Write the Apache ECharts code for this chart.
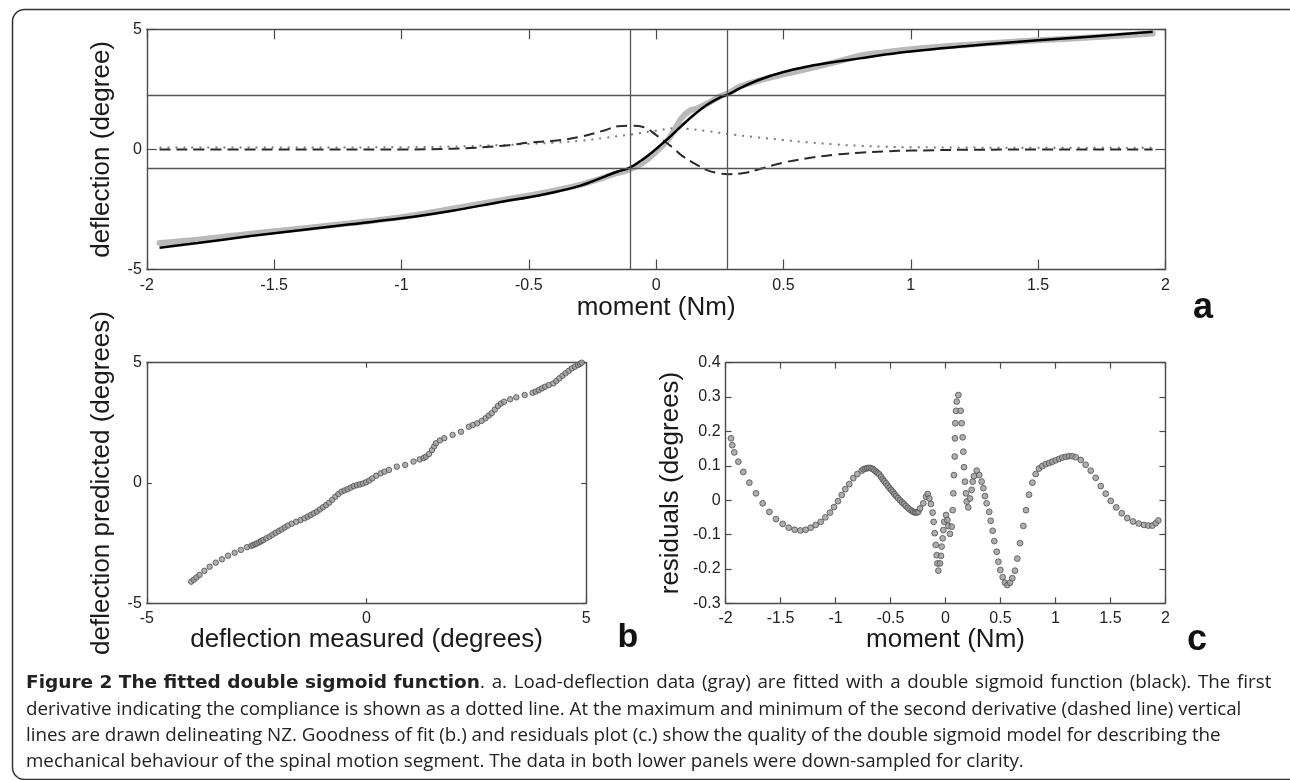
<!DOCTYPE html>
<html>
<head>
<meta charset="utf-8">
<script src="https://cdn.jsdelivr.net/npm/echarts@6/dist/echarts.min.js"></script>
<style>
html,body{margin:0;padding:0;background:#fff;}
#c{width:1290px;height:780px;}
</style>
</head>
<body>
<div id="c"></div>
<script>
// ---------- Panel a: load-deflection ----------
const fitMoment = [-1.95,-1.8,-1.6,-1.4,-1.2,-1.0,-0.8,-0.6,-0.5,-0.4,-0.3,-0.25,-0.2,-0.15,-0.105,-0.05,0,0.05,0.1,0.15,0.2,0.25,0.285,0.33,0.4,0.5,0.6,0.7,0.8,0.9,1.0,1.2,1.4,1.6,1.8,1.95];
const fitDeflection = [-4.09,-3.90,-3.62,-3.37,-3.12,-2.87,-2.55,-2.17,-1.99,-1.78,-1.52,-1.33,-1.12,-0.92,-0.77,-0.40,0.02,0.48,0.98,1.45,1.86,2.16,2.30,2.55,2.88,3.22,3.46,3.64,3.79,3.95,4.08,4.28,4.46,4.62,4.77,4.90];

const dataMoment = [-1.95,-1.8,-1.6,-1.4,-1.2,-1.0,-0.8,-0.6,-0.5,-0.4,-0.3,-0.25,-0.2,-0.15,-0.105,-0.05,0,0.05,0.08,0.1,0.13,0.16,0.2,0.25,0.285,0.33,0.4,0.5,0.6,0.7,0.8,0.9,1.0,1.2,1.4,1.6,1.8,1.95];
const dataDeflection = [-3.90,-3.76,-3.52,-3.30,-3.07,-2.82,-2.47,-2.10,-1.92,-1.72,-1.48,-1.32,-1.15,-0.98,-0.85,-0.55,-0.10,0.45,0.95,1.30,1.60,1.70,1.90,2.20,2.35,2.62,2.85,3.12,3.36,3.62,3.90,4.05,4.17,4.34,4.48,4.60,4.72,4.82];

const derivMoment = [-1.95,-1.5,-1.0,-0.8,-0.6,-0.5,-0.4,-0.3,-0.2,-0.1,0,0.07,0.12,0.2,0.3,0.4,0.5,0.6,0.7,0.8,0.9,1.0,1.5,1.95];
const firstDerivative = [0.08,0.08,0.09,0.12,0.18,0.23,0.28,0.36,0.48,0.62,0.78,0.88,0.86,0.76,0.62,0.50,0.39,0.29,0.21,0.15,0.11,0.09,0.07,0.07];

const secondMoment = [-1.95,-1.5,-1.0,-0.8,-0.6,-0.5,-0.4,-0.3,-0.2,-0.15,-0.1,-0.05,0,0.068,0.1,0.15,0.2,0.25,0.29,0.35,0.4,0.5,0.6,0.7,0.8,0.9,1.0,1.3,1.95];
const secondDerivative = [0.0,0.0,0.0,0.03,0.15,0.28,0.36,0.52,0.80,0.96,0.98,0.93,0.60,0.05,-0.25,-0.58,-0.86,-1.00,-1.03,-0.97,-0.84,-0.55,-0.36,-0.22,-0.14,-0.08,-0.05,-0.01,0.0];

const nzMoments = [-0.105, 0.285];
const nzDeflections = [-0.78, 2.27];

// ---------- Panel b: goodness of fit ----------
const measured = [-3.99,-3.93,-3.87,-3.80,-3.69,-3.57,-3.43,-3.29,-3.15,-3.00,-2.86,-2.72,-2.62,-2.58,-2.53,-2.49,-2.44,-2.40,-2.35,-2.28,-2.21,-2.14,-2.07,-2.00,-1.93,-1.86,-1.79,-1.70,-1.60,-1.50,-1.41,-1.34,-1.27,-1.20,-1.13,-1.06,-0.99,-0.92,-0.85,-0.78,-0.71,-0.64,-0.57,-0.50,-0.43,-0.36,-0.29,-0.22,-0.15,-0.08,-0.01,0.06,0.13,0.22,0.32,0.41,0.51,0.69,0.88,1.07,1.21,1.30,1.35,1.42,1.49,1.54,1.58,1.67,1.77,1.96,2.15,2.33,2.42,2.52,2.62,2.71,2.78,2.85,2.92,2.99,3.06,3.13,3.27,3.41,3.60,3.78,3.85,3.92,3.99,4.06,4.15,4.25,4.32,4.39,4.46,4.53,4.60,4.67,4.74,4.81,4.86,4.90];
const predicted = [-4.10,-4.02,-3.93,-3.82,-3.65,-3.48,-3.31,-3.17,-3.02,-2.90,-2.78,-2.67,-2.61,-2.58,-2.54,-2.51,-2.46,-2.42,-2.37,-2.30,-2.23,-2.15,-2.07,-2.00,-1.93,-1.85,-1.77,-1.69,-1.61,-1.54,-1.47,-1.40,-1.33,-1.26,-1.19,-1.10,-1.01,-0.92,-0.82,-0.70,-0.57,-0.46,-0.36,-0.31,-0.26,-0.19,-0.13,-0.09,-0.06,-0.02,0.03,0.10,0.19,0.30,0.40,0.47,0.54,0.68,0.75,0.89,0.98,1.04,1.09,1.20,1.37,1.52,1.65,1.77,1.86,2.00,2.13,2.34,2.41,2.48,2.58,2.69,2.80,2.90,3.05,3.20,3.30,3.38,3.48,3.56,3.66,3.75,3.80,3.86,3.93,4.00,4.07,4.14,4.24,4.35,4.46,4.56,4.66,4.76,4.83,4.90,4.95,5.00];

// ---------- Panel c: residuals ----------
const residMoment = [-1.951,-1.939,-1.921,-1.884,-1.839,-1.784,-1.724,-1.663,-1.602,-1.542,-1.481,-1.426,-1.372,-1.320,-1.272,-1.226,-1.181,-1.135,-1.093,-1.050,-1.014,-0.978,-0.944,-0.911,-0.875,-0.839,-0.802,-0.762,-0.745,-0.726,-0.711,-0.696,-0.679,-0.662,-0.647,-0.632,-0.617,-0.602,-0.586,-0.571,-0.556,-0.541,-0.526,-0.511,-0.495,-0.480,-0.465,-0.450,-0.432,-0.414,-0.396,-0.378,-0.361,-0.344,-0.326,-0.308,-0.292,-0.277,-0.262,-0.247,-0.232,-0.202,-0.177,-0.162,-0.147,-0.132,-0.117,-0.108,-0.098,-0.089,-0.080,-0.074,-0.065,-0.050,-0.041,-0.035,-0.026,-0.020,-0.011,0.005,0.017,0.026,0.041,0.056,0.065,0.071,0.077,0.084,0.086,0.089,0.096,0.102,0.117,0.138,0.147,0.156,0.162,0.168,0.177,0.186,0.193,0.207,0.223,0.238,0.247,0.259,0.284,0.307,0.329,0.344,0.359,0.374,0.398,0.411,0.429,0.444,0.466,0.481,0.499,0.520,0.541,0.562,0.587,0.608,0.632,0.653,0.678,0.708,0.732,0.760,0.790,0.820,0.850,0.880,0.911,0.941,0.971,1.002,1.032,1.062,1.093,1.123,1.153,1.184,1.230,1.275,1.321,1.366,1.412,1.457,1.503,1.553,1.603,1.653,1.706,1.757,1.805,1.845,1.881,1.912,1.936];
const residual = [0.180,0.160,0.139,0.112,0.082,0.051,0.020,-0.009,-0.034,-0.055,-0.069,-0.080,-0.086,-0.088,-0.086,-0.080,-0.072,-0.063,-0.050,-0.036,-0.020,-0.003,0.015,0.032,0.047,0.064,0.076,0.086,0.090,0.092,0.093,0.094,0.093,0.091,0.087,0.083,0.079,0.075,0.068,0.061,0.055,0.049,0.042,0.036,0.030,0.025,0.018,0.012,0.006,0.000,-0.006,-0.011,-0.017,-0.022,-0.027,-0.031,-0.034,-0.036,-0.036,-0.034,-0.024,-0.009,0.010,0.018,0.005,-0.011,-0.036,-0.063,-0.096,-0.130,-0.160,-0.184,-0.205,-0.184,-0.162,-0.135,-0.111,-0.087,-0.063,-0.043,-0.058,-0.075,-0.098,-0.077,-0.029,0.020,0.073,0.127,0.180,0.224,0.260,0.287,0.306,0.260,0.224,0.183,0.141,0.096,0.054,0.020,-0.004,-0.021,0.005,0.030,0.054,0.070,0.086,0.073,0.054,0.035,0.012,-0.009,-0.034,-0.060,-0.089,-0.119,-0.150,-0.179,-0.203,-0.224,-0.240,-0.247,-0.240,-0.227,-0.205,-0.170,-0.125,-0.075,-0.029,0.016,0.051,0.076,0.092,0.099,0.105,0.108,0.112,0.116,0.120,0.124,0.126,0.128,0.128,0.125,0.117,0.103,0.086,0.065,0.041,0.019,-0.002,-0.021,-0.038,-0.052,-0.062,-0.068,-0.072,-0.074,-0.074,-0.067,-0.059];

// ---------- Text ----------
const captionBold = 'Figure 2 The fitted double sigmoid function';
const captionLines = [
  '. a. Load-deflection data (gray) are fitted with a double sigmoid function (black). The first',
  'derivative indicating the compliance is shown as a dotted line. At the maximum and minimum of the second derivative (dashed line) vertical',
  'lines are drawn delineating NZ. Goodness of fit (b.) and residuals plot (c.) show the quality of the double sigmoid model for describing the',
  'mechanical behaviour of the spinal motion segment. The data in both lower panels were down-sampled for clarity.'
];

const zip = (xs, ys) => xs.map((x, i) => [x, ys[i]]);

const FRAME = '#4a4a4a';
const SANS = '"Liberation Sans", Arial, Helvetica, sans-serif';
const CAP_FONT = '18.75px "Open Sans", "Noto Sans", sans-serif';
const CAP_SPACE = '26px "Open Sans", "Noto Sans", sans-serif';
const CAP_BOLD = 'bold 18.5px "DejaVu Sans", "Open Sans", sans-serif';
const LABEL = {color: '#222', fontSize: 16, fontFamily: SANS};
const NAME = {color: '#1a1a1a', fontSize: 26, fontFamily: SANS};

function axisPair(kind, gi, min, max, interval, tickLen, name, nameGap, labelMargin) {
  const pos = kind === 'x' ? ['bottom', 'top'] : ['left', 'right'];
  const common = {
    type: 'value', gridIndex: gi, min: min, max: max, interval: interval,
    axisLine: {show: true, onZero: false, lineStyle: {color: FRAME, width: 1.4}},
    axisTick: {show: true, inside: true, length: tickLen, lineStyle: {color: FRAME, width: 1.2}},
    splitLine: {show: false}
  };
  return [
    Object.assign({}, common, {
      position: pos[0],
      axisLabel: Object.assign({show: true, margin: labelMargin}, LABEL),
      name: name, nameLocation: 'middle', nameGap: nameGap, nameTextStyle: NAME
    }),
    Object.assign({}, common, {position: pos[1], axisLabel: {show: false}})
  ];
}

const xAxes = [].concat(
  axisPair('x', 0, -2, 2, 0.5, 10, 'moment (Nm)', 25, 8),
  axisPair('x', 1, -5, 5, 5, 5, 'deflection measured (degrees)', 23, 7),
  axisPair('x', 2, -2, 2, 0.5, 6, 'moment (Nm)', 23, 7)
);
const yAxes = [].concat(
  axisPair('y', 0, -5, 5, 5, 10, 'deflection (degree)', 32, 5),
  axisPair('y', 1, -5, 5, 5, 5, 'deflection predicted (degrees)', 32, 5),
  axisPair('y', 2, -0.3, 0.4, 0.1, 6, 'residuals (degrees)', 42, 5)
);

const dotStyle = {color: '#9a9a9a', borderColor: '#505050', borderWidth: 1};

// first caption line is justified in the reference: widen its word spaces
const firstLineRich = '{b|' + captionBold + '}' +
  captionLines[0].split(' ').map(w => '{n|' + w + '}').join('{s| }');

const option = {
  animation: false,
  backgroundColor: '#fff',
  grid: [
    {left: 146.8, top: 29.3, width: 1018.6, height: 240.2, outerBoundsMode: 'none'},
    {left: 146.8, top: 362.7, width: 439.4, height: 240.6, outerBoundsMode: 'none'},
    {left: 725.6, top: 362.7, width: 439.8, height: 240.6, outerBoundsMode: 'none'}
  ],
  xAxis: xAxes,
  yAxis: yAxes,
  series: [
    {
      name: 'data', type: 'line', xAxisIndex: 0, yAxisIndex: 0,
      data: zip(dataMoment, dataDeflection), showSymbol: false, symbol: 'none',
      smooth: 0.4,
      lineStyle: {color: '#b9b9b9', width: 6, cap: 'round', join: 'round'},
      markLine: {
        silent: true, symbol: ['none', 'none'], label: {show: false},
        lineStyle: {color: '#555', width: 1.3, type: 'solid'},
        emphasis: {disabled: true},
        data: nzMoments.map(v => ({xAxis: v})).concat(nzDeflections.map(v => ({yAxis: v})))
      },
      z: 1
    },
    {
      name: 'first derivative', type: 'line', xAxisIndex: 0, yAxisIndex: 0,
      data: zip(derivMoment, firstDerivative), symbol: 'none', smooth: 0.4,
      lineStyle: {color: '#7a7a7a', width: 2, type: [2, 6]}, z: 2
    },
    {
      name: 'second derivative', type: 'line', xAxisIndex: 0, yAxisIndex: 0,
      data: zip(secondMoment, secondDerivative), symbol: 'none', smooth: 0.4,
      lineStyle: {color: '#2a2a2a', width: 2, type: [11, 6]}, z: 3
    },
    {
      name: 'fit', type: 'line', xAxisIndex: 0, yAxisIndex: 0,
      data: zip(fitMoment, fitDeflection), symbol: 'none', smooth: 0.4,
      lineStyle: {color: '#000', width: 2.5}, z: 4
    },
    {
      name: 'goodness of fit', type: 'scatter', xAxisIndex: 2, yAxisIndex: 2,
      data: zip(measured, predicted), symbol: 'circle', symbolSize: 5.5,
      itemStyle: dotStyle
    },
    {
      name: 'residuals', type: 'scatter', xAxisIndex: 4, yAxisIndex: 4,
      data: zip(residMoment, residual), symbol: 'circle', symbolSize: 5.8,
      itemStyle: dotStyle
    }
  ],
  graphic: [
    {type: 'rect', left: 10, top: 7, silent: true,
     shape: {x: 0, y: 0, width: 1300, height: 770, r: 12},
     style: {fill: 'none', stroke: '#333', lineWidth: 1.5}},
    {type: 'text', x: 1203, y: 308, silent: true,
     style: {text: 'a', font: 'bold 36px ' + SANS, fill: '#111', align: 'center', verticalAlign: 'middle'}},
    {type: 'text', x: 628, y: 638, silent: true,
     style: {text: 'b', font: 'bold 34px ' + SANS, fill: '#111', align: 'center', verticalAlign: 'middle'}},
    {type: 'text', x: 1197, y: 640, silent: true,
     style: {text: 'c', font: 'bold 36px ' + SANS, fill: '#111', align: 'center', verticalAlign: 'middle'}},
    {type: 'text', x: 26, y: 683, silent: true,
     style: {
       text: firstLineRich,
       rich: {
         b: {font: CAP_BOLD, fill: '#222', lineHeight: 22},
         n: {font: CAP_FONT, fill: '#222', lineHeight: 22},
         s: {font: CAP_SPACE, fill: '#222', lineHeight: 22}
       },
       verticalAlign: 'middle'
     }},
    {type: 'text', x: 26, y: 710, silent: true,
     style: {text: captionLines[1], font: CAP_FONT, fill: '#222', verticalAlign: 'middle'}},
    {type: 'text', x: 26, y: 736, silent: true,
     style: {text: captionLines[2], font: CAP_FONT, fill: '#222', verticalAlign: 'middle'}},
    {type: 'text', x: 26, y: 762, silent: true,
     style: {text: captionLines[3], font: CAP_FONT, fill: '#222', verticalAlign: 'middle'}}
  ]
};

const chart = echarts.init(document.getElementById('c'), null, {renderer: 'canvas'});
chart.setOption(option);
</script>
</body>
</html>
